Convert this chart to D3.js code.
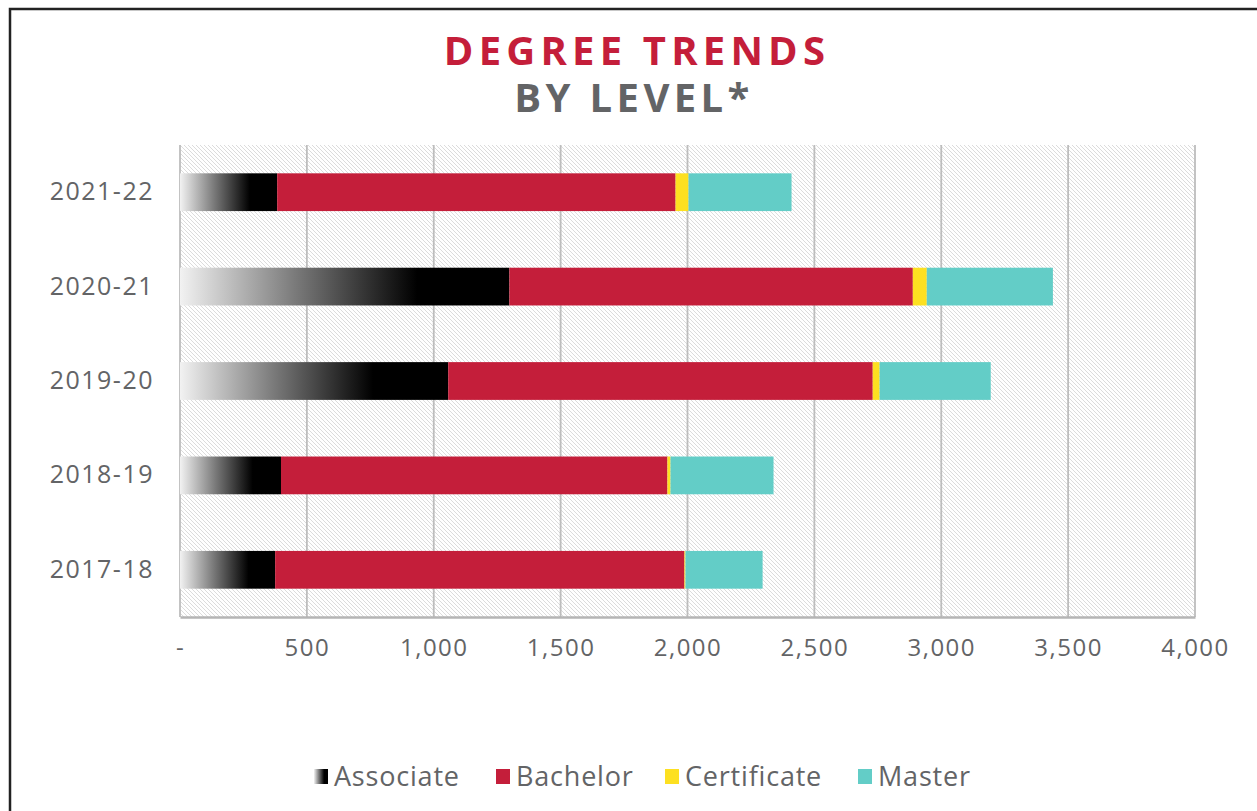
<!DOCTYPE html>
<html>
<head>
<meta charset="utf-8">
<script src="https://cdn.jsdelivr.net/npm/d3@7"></script>
<style>
  body { margin: 0; background: #fff; }
  text { font-family: "Open Sans", "Lato", sans-serif; }
</style>
</head>
<body>
<div class="degree-graph"></div>
<script>
// chart data
var years = ["2021-22", "2020-21", "2019-20", "2018-19", "2017-18"];
var levels = ["Associate", "Bachelor", "Certificate", "Master"];
var associate   = [383, 1298, 1057, 398, 375];
var bachelor    = [1570, 1590, 1673, 1523, 1613];
var certificate = [51, 55, 27, 12, 4];
var master      = [406, 497, 438, 406, 304];
var xTicks = [0, 500, 1000, 1500, 2000, 2500, 3000, 3500, 4000];

var colors = {Associate: "url(#assocGrad)", Bachelor: "#c41e3a", Certificate: "#fde021", Master: "#63cdc7"};

var data = years.map(function(y, i) {
  return {year: y, Associate: associate[i], Bachelor: bachelor[i], Certificate: certificate[i], Master: master[i]};
});

var W = 1257, H = 811;
var margin = {top: 145, right: 62, bottom: 194, left: 180},
    width = W - margin.left - margin.right,
    height = H - margin.top - margin.bottom;

var root = d3.select(".degree-graph").append("svg")
    .attr("width", W)
    .attr("height", H);

var defs = root.append("defs");

// diagonal hatch for the plot background
var pat = defs.append("pattern")
    .attr("id", "hatch")
    .attr("patternUnits", "userSpaceOnUse")
    .attr("width", 4).attr("height", 4);
pat.append("rect").attr("width", 4).attr("height", 4).attr("fill", "#fff");
pat.append("path")
    .attr("d", "M-1,-1 L5,5 M-1,3 L1,5 M3,-1 L5,1")
    .attr("stroke", "#dcdcdc")
    .attr("stroke-width", 1);

// gradient for the associate bars
var grad = defs.append("linearGradient")
    .attr("id", "assocGrad")
    .attr("x1", 0).attr("x2", 1).attr("y1", 0).attr("y2", 0);
grad.append("stop").attr("offset", "0%").attr("stop-color", "#f2f2f2");
grad.append("stop").attr("offset", "35%").attr("stop-color", "#7a7a7a");
grad.append("stop").attr("offset", "72%").attr("stop-color", "#000");
grad.append("stop").attr("offset", "100%").attr("stop-color", "#000");

// frame
root.append("path")
    .attr("d", "M10," + H + " V9 H" + W)
    .attr("fill", "none")
    .attr("stroke", "#222")
    .attr("stroke-width", 2.5);

// title (two lines in one text)
var title = root.append("text")
    .attr("text-anchor", "middle")
    .style("font-size", "40px").style("font-weight", 700);
title.append("tspan")
    .attr("x", 637).attr("y", 65)
    .style("letter-spacing", "5.2px")
    .attr("fill", "#c41e3a")
    .text("DEGREE TRENDS");
title.append("tspan")
    .attr("x", 634).attr("y", 112)
    .style("letter-spacing", "4.4px")
    .attr("fill", "#636466")
    .text("BY LEVEL*");

var svg = root.append("g")
    .attr("transform", "translate(" + margin.left + "," + margin.top + ")");

var x = d3.scaleLinear().domain([0, 4000]).range([0, width]);
var y = d3.scaleBand().domain(years).range([0, height]).paddingInner(0.6).paddingOuter(0.3);

svg.append("rect")
    .attr("width", width).attr("height", height)
    .attr("fill", "url(#hatch)");

// grid lines
svg.append("g")
    .selectAll("line")
    .data(xTicks)
    .enter().append("line")
    .attr("x1", function(d) { return x(d); })
    .attr("x2", function(d) { return x(d); })
    .attr("y1", 0).attr("y2", height)
    .attr("stroke", "#bdbdbd")
    .attr("stroke-width", 1.8);

// bars
var stack = d3.stack().keys(levels)(data);
svg.selectAll("g.layer")
    .data(stack)
    .enter().append("g")
    .attr("class", "layer")
    .attr("fill", function(d) { return colors[d.key]; })
    .selectAll("rect")
    .data(function(d) { return d; })
    .enter().append("rect")
    .attr("x", function(d) { return x(d[0]); })
    .attr("y", function(d) { return y(d.data.year); })
    .attr("width", function(d) { return x(d[1]) - x(d[0]); })
    .attr("height", y.bandwidth());

// x axis
var xAxis = svg.append("g")
    .attr("transform", "translate(0," + height + ")")
    .call(d3.axisBottom(x).tickValues(xTicks).tickSize(0).tickPadding(22)
      .tickFormat(function(d) { return d === 0 ? "-" : d3.format(",")(d); }));
xAxis.select(".domain").attr("stroke", "#b5b5b5").attr("stroke-width", 2.5);
xAxis.selectAll("text")
    .attr("fill", "#636466")
    .style("font-size", "24px")
    .style("letter-spacing", "1.5px")
    .style("font-family", "'Open Sans', sans-serif");

// y axis
var yAxis = svg.append("g")
    .call(d3.axisLeft(y).tickSize(0).tickPadding(26));
yAxis.select(".domain").remove();
yAxis.selectAll("text")
    .attr("fill", "#636466")
    .style("font-size", "25px")
    .style("letter-spacing", "1.5px")
    .style("font-family", "'Open Sans', sans-serif");

// legend
var legendX = [314, 496, 665, 858];
var legend = root.append("g")
    .selectAll("g")
    .data(levels)
    .enter().append("g")
    .attr("transform", function(d, i) { return "translate(" + legendX[i] + ",769)"; });
legend.append("rect")
    .attr("width", 14).attr("height", 15)
    .attr("fill", function(d) { return colors[d]; });
legend.append("text")
    .attr("x", 20).attr("y", 17)
    .attr("fill", "#636466")
    .style("font-size", "27px")
    .style("letter-spacing", "0.8px")
    .text(function(d) { return d; });
</script>
</body>
</html>
